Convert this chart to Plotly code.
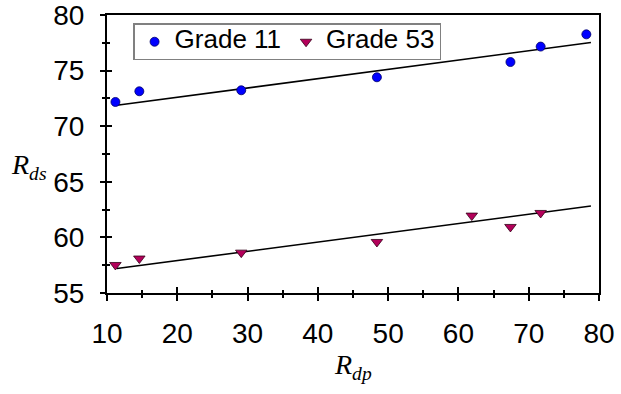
import plotly.graph_objects as go

# Measured points
rdp_g11 = [11.2, 14.6, 29.1, 48.4, 67.4, 71.7, 78.2]
rds_g11 = [72.18, 73.14, 73.23, 74.4, 75.77, 77.16, 78.26]
rdp_g53 = [11.2, 14.6, 29.1, 48.4, 61.9, 67.4, 71.7]
rds_g53 = [57.52, 58.1, 58.63, 59.59, 61.96, 60.94, 62.2]

# Linear trend lines (end points)
trend_x = [11.4, 78.85]
trend_g11 = [71.88, 77.52]
trend_g53 = [57.2, 62.82]

series_names = ["Grade 11", "Grade 53"]

x_range = [10, 80]
y_range = [55, 80]


def legend_label(text):
    return '<span style="font-size:26px">' + text + "</span>"


fig = go.Figure()

fig.add_trace(go.Scatter(x=trend_x, y=trend_g11, mode="lines",
                         line=dict(color="black", width=1.6),
                         showlegend=False, hoverinfo="skip"))
fig.add_trace(go.Scatter(x=trend_x, y=trend_g53, mode="lines",
                         line=dict(color="black", width=1.6),
                         showlegend=False, hoverinfo="skip"))

fig.add_trace(go.Scatter(x=rdp_g11, y=rds_g11, mode="markers",
                         name=legend_label(series_names[0]),
                         marker=dict(symbol="circle", size=9, color="#0000FF",
                                     line=dict(color="#000066", width=0.8))))
fig.add_trace(go.Scatter(x=rdp_g53, y=rds_g53, mode="markers",
                         name=legend_label(series_names[1]),
                         marker=dict(symbol="triangle-down", size=10, color="#B3005A",
                                     line=dict(color="#330018", width=0.8))))

# Invisible trace that carries the overlay axes (inward half of the crossing ticks)
fig.add_trace(go.Scatter(x=x_range, y=y_range, xaxis="x2", yaxis="y2",
                         mode="markers", marker=dict(opacity=0),
                         showlegend=False, hoverinfo="skip"))

tick_font = dict(family="Arial, Liberation Sans, sans-serif", size=28, color="black")

fig.update_layout(
    width=621, height=394,
    margin=dict(l=107, r=22, t=15, b=101, autoexpand=False),
    paper_bgcolor="white", plot_bgcolor="white",
    xaxis=dict(range=x_range, dtick=10, tick0=0, showgrid=False, zeroline=False,
               automargin=False, ticklabeloverflow="allow",
               showline=True, linecolor="black", linewidth=2, mirror=True,
               ticks="outside", ticklen=6, tickwidth=1.5, tickcolor="black",
               minor=dict(ticks="outside", ticklen=3, dtick=5, tickwidth=1.5,
                          tickcolor="black", showgrid=False),
               tickfont=tick_font, ticklabelstandoff=8),
    yaxis=dict(range=y_range, dtick=5, tick0=0, showgrid=False, zeroline=False,
               automargin=False, ticklabeloverflow="allow",
               showline=True, linecolor="black", linewidth=2, mirror=True,
               ticks="outside", ticklen=5, tickwidth=1.5, tickcolor="black",
               minor=dict(ticks="outside", ticklen=3, dtick=2.5, tickwidth=1.5,
                          tickcolor="black", showgrid=False),
               tickfont=tick_font, ticklabelstandoff=10),
    xaxis2=dict(range=x_range, overlaying="x", side="bottom", dtick=10, tick0=0,
                automargin=False,
                showgrid=False, zeroline=False, showline=False, showticklabels=False,
                ticks="inside", ticklen=6, tickwidth=1.5, tickcolor="black",
                minor=dict(ticks="inside", ticklen=3, dtick=5, tickwidth=1.5,
                           tickcolor="black", showgrid=False)),
    yaxis2=dict(range=y_range, overlaying="y", side="left", dtick=5, tick0=0,
                automargin=False,
                showgrid=False, zeroline=False, showline=False, showticklabels=False,
                ticks="inside", ticklen=5, tickwidth=1.5, tickcolor="black",
                minor=dict(ticks="inside", ticklen=3, dtick=2.5, tickwidth=1.5,
                           tickcolor="black", showgrid=False)),
    legend=dict(orientation="h", x=0.053, y=0.97, xanchor="left", yanchor="top",
                bgcolor="white", bordercolor="#808080", borderwidth=1.5,
                font=dict(family="Arial, Liberation Sans, sans-serif", size=16, color="black"),
                itemwidth=30, tracegroupgap=0),
    showlegend=True,
)

title_font = dict(family="Times New Roman, Liberation Serif, serif", size=28, color="black")
fig.add_annotation(text="<i>R<sub>ds</sub></i>", xref="paper", yref="paper",
                   x=-0.158, y=0.455, xanchor="center", yanchor="middle",
                   showarrow=False, font=title_font)
fig.add_annotation(text="<i>R<sub>dp</sub></i>", xref="paper", yref="paper",
                   x=0.5, y=-0.193, xanchor="center", yanchor="top",
                   showarrow=False, font=title_font)

fig.write_html("out.html")
